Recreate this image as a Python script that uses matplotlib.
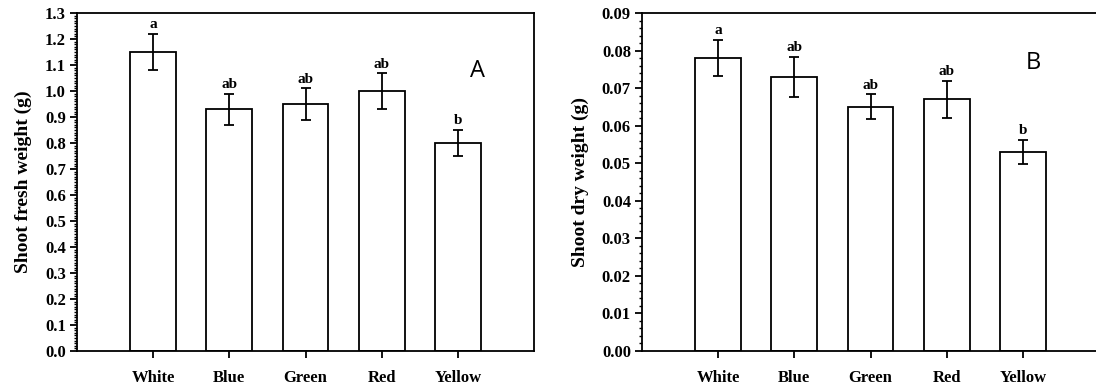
import matplotlib
matplotlib.use("Agg")
import matplotlib.pyplot as plt
from matplotlib.ticker import MultipleLocator, FormatStrFormatter

# data
categories = ["White", "Blue", "Green", "Red", "Yellow"]
fresh_mean = [1.15, 0.93, 0.95, 1.00, 0.80]
fresh_err = [0.07, 0.06, 0.06, 0.068, 0.049]
dry_mean = [0.078, 0.073, 0.065, 0.067, 0.053]
dry_err = [0.0048, 0.0053, 0.0033, 0.0049, 0.0033]
letters = ["a", "ab", "ab", "ab", "b"]

plt.rcParams["font.family"] = ["Liberation Serif", "DejaVu Serif"]
plt.rcParams["font.weight"] = "bold"

W, H = 1096, 387
fig = plt.figure(figsize=(W / 100, H / 100), dpi=100)


def panel(rect, means, errs, ylim, major, minor, fmt, ylabel, tag, tag_xy):
    ax = fig.add_axes(rect)
    x = range(len(categories))
    ax.bar(x, means, width=0.6, color="white", edgecolor="black", linewidth=1.3)
    ax.errorbar(x, means, yerr=errs, fmt="none", ecolor="black",
                elinewidth=1.3, capsize=3.6, capthick=1.3)
    for i, (m, e) in enumerate(zip(means, errs)):
        ax.annotate(letters[i], (i, m + e), xytext=(0, 2), textcoords="offset points",
                    ha="center", va="bottom", fontsize=11, fontweight="bold")
    ax.set_xlim(-1, len(categories))
    ax.set_ylim(*ylim)
    ax.set_xticks(list(x))
    ax.set_xticklabels(categories, fontsize=12, fontweight="bold")
    ax.yaxis.set_major_locator(MultipleLocator(major))
    ax.yaxis.set_minor_locator(MultipleLocator(minor))
    ax.yaxis.set_major_formatter(FormatStrFormatter(fmt))
    for lab in ax.get_yticklabels():
        lab.set_fontsize(12)
        lab.set_fontweight("bold")
    ax.tick_params(axis="y", which="major", direction="out", length=5, width=1.3, pad=3)
    ax.tick_params(axis="y", which="minor", direction="out", length=2.5, width=1.0)
    ax.tick_params(axis="x", which="major", direction="out", length=5, width=1.3, pad=9)
    for s in ax.spines.values():
        s.set_linewidth(1.3)
    ax.set_ylabel(ylabel, fontsize=14, fontweight="bold", labelpad=9)
    ax.text(tag_xy[0], tag_xy[1], tag, transform=ax.transAxes, fontsize=17,
            family=["Open Sans", "DejaVu Sans"], fontweight="normal",
            ha="center", va="center")
    return ax


def rect(l, r, t, b):
    return [l / W, 1 - b / H, (r - l) / W, (b - t) / H]


panel(rect(77, 534, 13, 351), fresh_mean, fresh_err, (0, 1.3), 0.1, 0.01, "%.1f",
      "Shoot fresh weight (g)", "A", ((478 - 77) / 457, 1 - (71 - 13) / 338))
panel(rect(642, 1099, 13, 351), dry_mean, dry_err, (0, 0.09), 0.01, 0.002, "%.2f",
      "Shoot dry weight (g)", "B", ((1033 - 642) / 457, 1 - (63 - 13) / 338))

fig.savefig("out.png", dpi=100, facecolor="white")
